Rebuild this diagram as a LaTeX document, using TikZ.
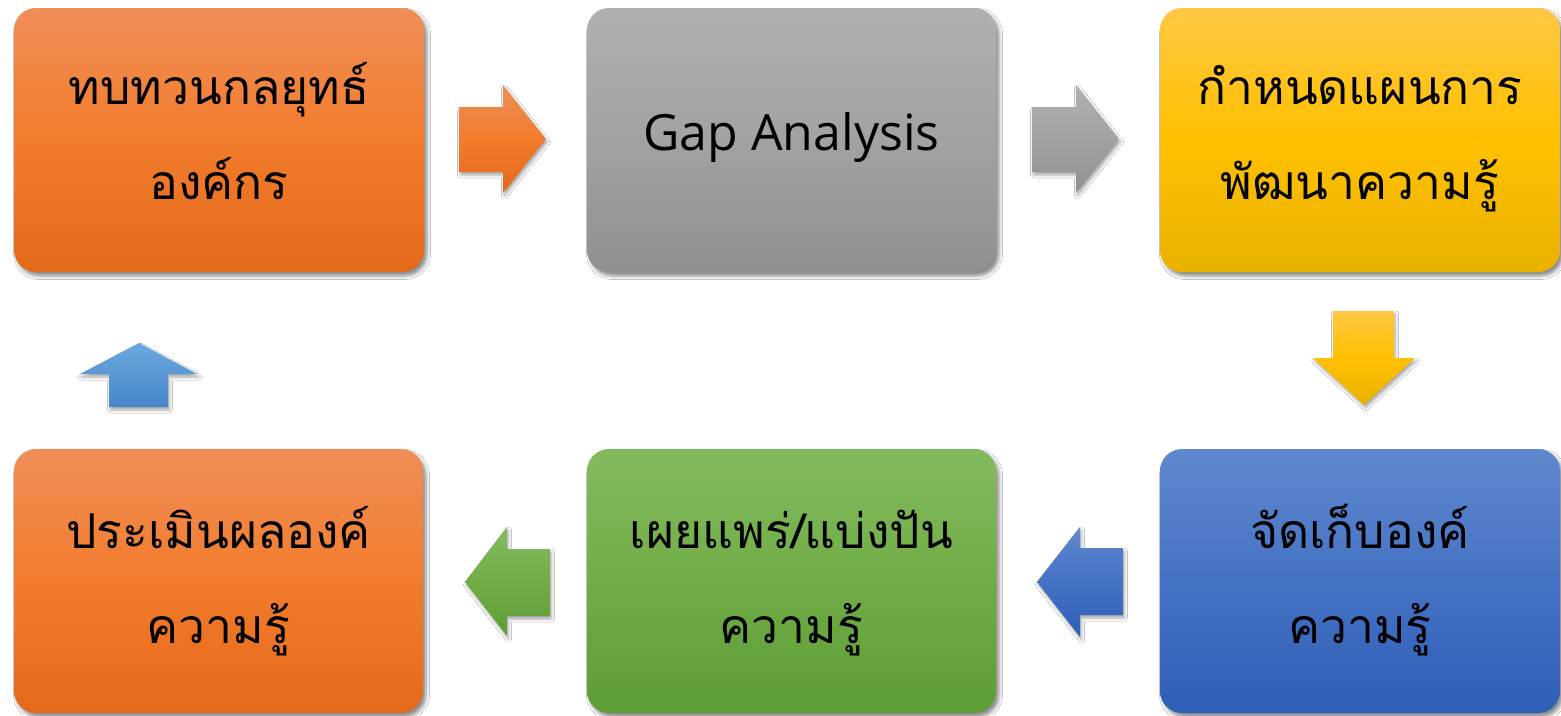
\documentclass[tikz,border=0pt]{standalone}
\usepackage{fontspec}
\newfontfamily\thaifont[Script=Thai]{Loma}
\newfontfamily\latfont{Open Sans}
\usetikzlibrary{shadows.blur}
\definecolor{oTop}{HTML}{F08E58}
\definecolor{oMid}{HTML}{F27C2C}
\definecolor{oBot}{HTML}{E46A1A}
\definecolor{gTop}{HTML}{B0B0B0}
\definecolor{gMid}{HTML}{A2A2A2}
\definecolor{gBot}{HTML}{909090}
\definecolor{yTop}{HTML}{FFC843}
\definecolor{yMid}{HTML}{FFC000}
\definecolor{yBot}{HTML}{E8B200}
\definecolor{bTop}{HTML}{6088CE}
\definecolor{bMid}{HTML}{4472C4}
\definecolor{bBot}{HTML}{2F5EB6}
\definecolor{grTop}{HTML}{84BA5E}
\definecolor{grMid}{HTML}{70AD47}
\definecolor{grBot}{HTML}{5E9C36}
\definecolor{lbTop}{HTML}{6CA8DF}
\definecolor{lbBot}{HTML}{4787C9}
\begin{document}
\begin{tikzpicture}[x=1pt,y=-1pt,
  box/.style={rounded corners=22pt, minimum width=#1, minimum height=264pt, inner sep=0pt,
    blur shadow={shadow xshift=3pt, shadow yshift=-4pt, shadow blur radius=3.5pt, shadow opacity=45}},
  arrowshadow/.style={blur shadow={shadow xshift=1.5pt, shadow yshift=-3pt, shadow blur radius=3pt, shadow opacity=35}},
  orangefill/.style={top color=oTop, bottom color=oBot, middle color=oMid},
  grayfill/.style={top color=gTop, bottom color=gBot, middle color=gMid},
  yellowfill/.style={top color=yTop, bottom color=yBot, middle color=yMid},
  bluefill/.style={top color=bTop, bottom color=bBot, middle color=bMid},
  greenfill/.style={top color=grTop, bottom color=grBot, middle color=grMid},
  lbluefill/.style={top color=lbTop, bottom color=lbBot},
  thai/.style={font=\thaifont\fontsize{48}{54}\selectfont, anchor=base, inner sep=0pt, text=black},
  lat/.style={font=\latfont\fontsize{50}{56}\selectfont, anchor=base, inner sep=0pt, text=black}]
\useasboundingbox (0,0) rectangle (1561,715);
\fill[white] (0,0) rectangle (1561,715);

% boxes
\node[box=410pt, orangefill] (b1) at (219,140) {};
\node[box=409pt, grayfill]   (b2) at (791.5,140) {};
\node[box=400pt, yellowfill] (b3) at (1360,140) {};
\node[box=409pt, orangefill] (b4) at (218.5,581) {};
\node[box=409pt, greenfill]  (b5) at (791.5,581) {};
\node[box=400pt, bluefill]   (b6) at (1360,581) {};

% block arrows
\path[orangefill, arrowshadow] (459,107) -- (503,107) -- (503,85) -- (546,139) -- (503,193) -- (503,172) -- (459,172) -- cycle;
\path[grayfill, arrowshadow] (1032,107) -- (1076,107) -- (1076,85) -- (1119,139) -- (1076,193) -- (1076,172) -- (1032,172) -- cycle;
\path[yellowfill, arrowshadow] (1333,311) -- (1394,311) -- (1394,358) -- (1415,358) -- (1364,405) -- (1313,358) -- (1333,358) -- cycle;
\path[bluefill, arrowshadow] (1123,548) -- (1080,548) -- (1080,527) -- (1037,582) -- (1080,637) -- (1080,615) -- (1123,615) -- cycle;
\path[greenfill, arrowshadow] (550,549) -- (507,549) -- (507,527) -- (465,582) -- (507,636) -- (507,616) -- (550,616) -- cycle;
\path[lbluefill, arrowshadow] (109,407) -- (109,374) -- (80,374) -- (139,343) -- (197,374) -- (168,374) -- (168,407) -- cycle;

% texts
\node[thai] (t1a) at (219,104) {ทบทวนกลยุทธ์};
\node[thai] (t1b) at (219,199) {องค์กร};
\node[lat]  (t2a) at (791.5,150) {Gap Analysis};
\node[thai] (t3a) at (1360,104) {กำหนดแผนการ};
\node[thai] (t3b) at (1360,199) {พัฒนาความรู้};
\node[thai] (t4a) at (218.5,548) {ประเมินผลองค์};
\node[thai] (t4b) at (218.5,643) {ความรู้};
\node[thai] (t5a) at (791.5,548) {เผยแพร่/แบ่งปัน};
\node[thai] (t5b) at (791.5,643) {ความรู้};
\node[thai] (t6a) at (1360,548) {จัดเก็บองค์};
\node[thai] (t6b) at (1360,643) {ความรู้};
\end{tikzpicture}
\end{document}
